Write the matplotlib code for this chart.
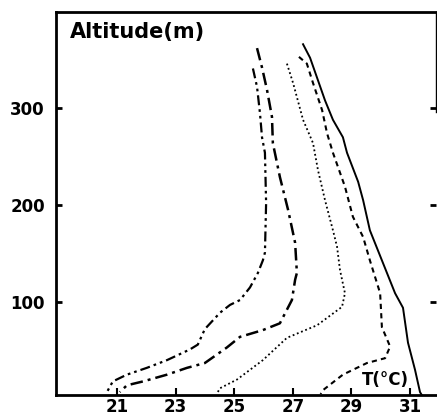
import matplotlib
matplotlib.use("Agg")
from matplotlib import pyplot as plt

# temperature (degC) vs altitude (m) profiles
t_solid = [27.35, 27.59, 28.10, 28.37, 28.71, 28.85, 29.23, 29.40, 29.63, 30.04, 30.49, 30.76, 30.93, 31.17, 31.34, 31.40]
z_solid = [366, 352, 308, 288, 270, 254, 224, 205, 174, 143, 109, 94, 58, 30, 7, 4]

t_dash = [27.21, 27.48, 27.69, 28.00, 28.17, 28.37, 28.78, 29.05, 29.40, 29.63, 29.98, 30.04, 30.32, 30.15, 29.53, 28.71, 28.03, 27.95]
z_dash = [353, 346, 326, 298, 274, 254, 219, 188, 167, 143, 109, 74, 54, 42, 37, 25, 9, 5]

t_dot = [26.80, 27.01, 27.35, 27.69, 27.86, 28.10, 28.37, 28.51, 28.61, 28.78, 28.68, 27.83, 26.80, 25.98, 25.10, 24.52, 24.40]
z_dot = [346, 326, 288, 264, 236, 205, 174, 157, 133, 109, 95, 76, 63, 40, 20, 11, 5]

t_dashdot = [25.78, 25.95, 26.12, 26.29, 26.32, 26.56, 26.84, 27.08, 27.14, 27.08, 26.97, 26.56, 25.98, 25.20, 24.75, 24.00, 23.39, 22.71, 21.89, 21.34, 21.10]
z_dashdot = [362, 342, 319, 291, 264, 229, 195, 161, 130, 123, 102, 78, 71, 64, 53, 37, 32, 25, 18, 14, 7]

t_dd = [25.64, 25.78, 25.88, 25.95, 26.05, 26.09, 26.05, 25.98, 25.81, 25.54, 25.20, 24.86, 24.52, 24.00, 23.76, 23.49, 22.71, 22.02, 21.34, 20.86, 20.66]
z_dd = [341, 322, 295, 270, 254, 202, 151, 143, 130, 115, 102, 97, 89, 72, 56, 51, 40, 32, 25, 18, 7]

xticks = [21, 23, 25, 27, 29, 31]
yticks = [100, 200, 300]

fig = plt.figure(figsize=(4.37, 4.16), dpi=100)
ax = fig.add_axes([0.128, 0.0505, 0.870, 0.92])

ax.plot(t_solid, z_solid, color="black", lw=1.4, ls="-")
ax.plot(t_dash, z_dash, color="black", lw=1.5, ls=(0, (2.5, 2)))
ax.plot(t_dot, z_dot, color="black", lw=1.3, ls=(0, (1, 1.5)))
ax.plot(t_dashdot, z_dashdot, color="black", lw=1.8, ls=(0, (5, 2, 1.2, 2)))
ax.plot(t_dd, z_dd, color="black", lw=1.6, ls=(0, (4.5, 1.8, 1.2, 1.8, 1.2, 1.8)))

ax.set_xlim(18.92, 31.89)
ax.set_ylim(4, 399)
ax.set_xticks(xticks)
ax.set_yticks(yticks)
ax.set_xticklabels([str(v) for v in xticks], fontsize=12, fontweight="bold")
ax.set_yticklabels([str(v) for v in yticks], fontsize=12, fontweight="bold")
ax.tick_params(axis="x", direction="in", length=5, width=1.5, pad=2)
ax.tick_params(axis="y", direction="in", length=4, width=2, pad=8, right=True)

for s in ["left", "bottom", "top"]:
    ax.spines[s].set_linewidth(2)
ax.spines["right"].set_linewidth(1.0)
ax.spines["right"].set_bounds(296, 399)

ax.text(0.037, 0.948, "Altitude(m)", transform=ax.transAxes, ha="left", va="center",
        fontsize=15, fontweight="bold")
ax.text(30.15, 19, "T(°C)", ha="center", va="center", fontsize=12, fontweight="bold")

fig.savefig("out.png", dpi=100)
